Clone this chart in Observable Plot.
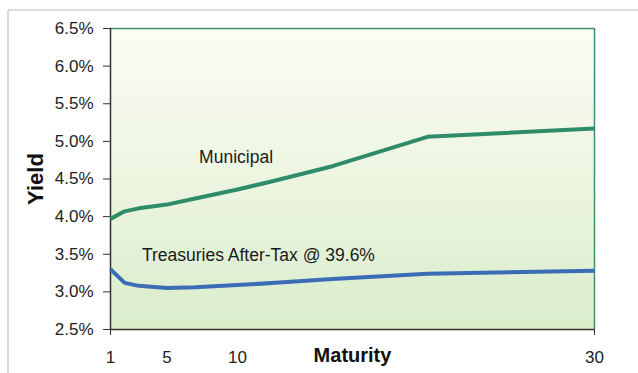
<!DOCTYPE html>
<html>
<head>
<meta charset="utf-8">
<script src="https://cdn.jsdelivr.net/npm/d3@7"></script>
<script src="https://cdn.jsdelivr.net/npm/@observablehq/plot@0.6"></script>
<style>
  body { margin: 0; background: #fff; }
  #chart { width: 638px; height: 373px; }
</style>
</head>
<body>
<div id="chart"></div>
<script>
// Data
const maturities = [1, 2, 3, 5, 7, 10, 12, 15, 20, 30];
const municipal = [3.97, 4.07, 4.11, 4.16, 4.24, 4.36, 4.48, 4.67, 5.06, 5.17];
const treasuries = [3.30, 3.12, 3.08, 3.05, 3.06, 3.09, 3.12, 3.17, 3.24, 3.28];
const xTickLabels = [1, 5, 10, 30];
const yTicks = [2.5, 3.0, 3.5, 4.0, 4.5, 5.0, 5.5, 6.0, 6.5];
const seriesNames = ["Municipal", "Treasuries After-Tax @ 39.6%"];

const rows = [];
maturities.forEach((m, i) => {
  rows.push({series: seriesNames[0], maturity: m, yield: municipal[i]});
  rows.push({series: seriesNames[1], maturity: m, yield: treasuries[i]});
});

const labels = [
  {text: seriesNames[0], maturity: 9.9, yield: 4.79},
  {text: seriesNames[1], maturity: 11.1, yield: 3.48}
];

const svgNS = "http://www.w3.org/2000/svg";
function background(index, scales, values, dims) {
  const g = document.createElementNS(svgNS, "g");
  const x0 = dims.marginLeft, y0 = dims.marginTop;
  const w = dims.width - dims.marginLeft - dims.marginRight;
  const h = dims.height - dims.marginTop - dims.marginBottom;
  g.innerHTML = `
    <defs><linearGradient id="bgGrad" x1="0" y1="0" x2="0" y2="1">
      <stop offset="0" stop-color="#fbfcf4"/>
      <stop offset="0.5" stop-color="#edf5e1"/>
      <stop offset="1" stop-color="#d9edcb"/>
    </linearGradient></defs>
    <line x1="8" y1="10" x2="${dims.width}" y2="10" stroke="#b5b5b5" stroke-width="1.2"/>
    <line x1="8" y1="10" x2="8" y2="${dims.height}" stroke="#c5c5c5" stroke-width="1.2"/>
    <rect x="${x0}" y="${y0}" width="${w}" height="${h}" fill="url(#bgGrad)"/>`;
  return g;
}

const chart = Plot.plot({
  width: 638,
  height: 373,
  marginLeft: 110,
  marginRight: 44,
  marginTop: 28,
  marginBottom: 44,
  style: {fontFamily: "'Liberation Sans', Arial, Helvetica, sans-serif", background: "#fff", color: "#222"},
  x: {type: "linear", domain: [1, 10, 20, 30], range: [110, 237, 427, 594]},
  y: {domain: [2.5, 6.5]},
  marks: [
    background,
    Plot.ruleY([6.5], {stroke: "#3f8f75", strokeWidth: 1.5}),
    Plot.ruleX([30], {stroke: "#3f8f75", strokeWidth: 1.5}),
    Plot.axisY({ticks: yTicks, tickSize: 7, tickPadding: 10, fontSize: 17,
      tickFormat: d => d.toFixed(1) + "%", label: null, stroke: "#333", color: "#222"}),
    Plot.axisX({ticks: [1, 30], tickSize: 6, tickFormat: () => "", label: null, stroke: "#333"}),
    Plot.axisX({ticks: xTickLabels, tickSize: 0, tickPadding: 21, fontSize: 17,
      tickFormat: d => String(d), label: null, color: "#222"}),
    Plot.ruleX([1], {stroke: "#333", strokeWidth: 1.5}),
    Plot.ruleY([2.5], {stroke: "#333", strokeWidth: 1.5}),
    Plot.line(rows, {x: "maturity", y: "yield", z: "series",
      stroke: d => d.series === seriesNames[0] ? "#2e8c69" : "#3a6db5",
      strokeWidth: 4, strokeLinejoin: "round", strokeLinecap: "butt"}),
    Plot.text(labels, {x: "maturity", y: "yield", text: "text", fontSize: 17.5,
      fill: "#1a1a1a", textAnchor: "middle"}),
    Plot.text(["Maturity"], {frameAnchor: "bottom", dy: 26, lineAnchor: "middle",
      textAnchor: "middle", fontSize: 20, fontWeight: "bold", fill: "#111"}),
    Plot.text(["Yield"], {frameAnchor: "left", dx: -75, rotate: -90,
      textAnchor: "middle", lineAnchor: "middle",
      fontSize: 22, fontWeight: "bold", fill: "#111"})
  ]
});
document.getElementById("chart").appendChild(chart);
</script>
</body>
</html>
